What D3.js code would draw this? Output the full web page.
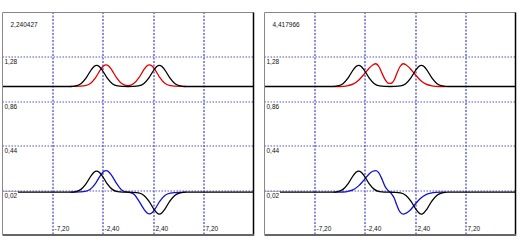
<!DOCTYPE html>
<html>
<head>
<meta charset="utf-8">
<script src="https://cdn.jsdelivr.net/npm/d3@7"></script>
<style>
  body { margin: 0; background: #fff; }
  svg text { font-family: "Liberation Sans", Arial, sans-serif; font-size: 6.5px; fill: #111; }
</style>
</head>
<body>
<div id="my_chart"></div>
<script>
// snapshot times shown top-left in each panel
const panelTimes = [2.240427, 4.417966]

const xTicks = [-7.2, -2.4, 2.4, 7.2]
const yTicks = [0.02, 0.44, 0.86, 1.28]

// black reference curves (same in both panels)
const blackTop = [[-12, 1], [-5.5, 1], [-5, 1.006], [-4.5, 1.027], [-4, 1.082], [-3.5, 1.16], [-3.25, 1.189], [-3, 1.2],
    [-2.75, 1.189], [-2.5, 1.16], [-2, 1.082], [-1.5, 1.027], [-1, 1.006], [-0.5, 1.001], [0, 1], [0.5, 1.001], [1, 1.006],
    [1.5, 1.027], [2, 1.082], [2.5, 1.16], [2.75, 1.189], [3, 1.2], [3.25, 1.189], [3.5, 1.16], [4, 1.082], [4.5, 1.027],
    [5, 1.006], [5.5, 1], [12, 1]]
const blackBottom = [[-12, 0], [-5.5, 0], [-5, 0.006], [-4.5, 0.027], [-4, 0.082], [-3.5, 0.16], [-3.25, 0.189], [-3, 0.2],
    [-2.75, 0.189], [-2.5, 0.16], [-2, 0.082], [-1.5, 0.027], [-1, 0.006], [-0.5, 0.001], [0, 0], [0.5, -0.001], [1, -0.006],
    [1.5, -0.028], [2, -0.084], [2.5, -0.164], [2.75, -0.194], [3, -0.207], [3.25, -0.194], [3.5, -0.164], [4, -0.084],
    [4.5, -0.028], [5, -0.006], [5.5, 0], [12, 0]]

// left panel
const redLeft = [[-5.5, 1], [-5.1, 1.001], [-4.6, 1.003], [-4.1, 1.008], [-3.6, 1.028], [-3.1, 1.084], [-2.6, 1.164],
    [-2.35, 1.194], [-2.1, 1.205], [-1.85, 1.194], [-1.6, 1.164], [-1.1, 1.084], [-0.6, 1.028], [0, 1.008], [0.55, 1.028],
    [1.05, 1.084], [1.55, 1.164], [1.8, 1.194], [2.05, 1.205], [2.3, 1.194], [2.55, 1.164], [3.05, 1.084], [3.55, 1.028],
    [4.05, 1.008], [4.55, 1.003], [5.05, 1.001], [5.5, 1]]
const blueLeft = [[-5.5, 0], [-5.1, 0.001], [-4.6, 0.003], [-4.1, 0.008], [-3.6, 0.028], [-3.1, 0.084], [-2.6, 0.164],
    [-2.35, 0.194], [-2.1, 0.205], [-1.85, 0.194], [-1.6, 0.164], [-1.1, 0.084], [-0.6, 0.02], [-0.3, 0.006], [0, 0],
    [0.3, -0.006], [0.6, -0.022], [1.05, -0.084], [1.55, -0.164], [1.8, -0.194], [2.05, -0.205], [2.3, -0.194],
    [2.55, -0.164], [3.05, -0.084], [3.55, -0.028], [4.05, -0.008], [4.55, -0.003], [5.05, -0.001], [5.5, 0]]

// right panel
const redRight = [[-5.4, 1], [-5, 1], [-4.5, 1.002], [-4, 1.009], [-3.5, 1.025], [-3, 1.06], [-2.5, 1.114], [-2, 1.173],
    [-1.65, 1.204], [-1.35, 1.215], [-1.05, 1.187], [-0.75, 1.122], [-0.45, 1.062], [-0.2, 1.033], [0, 1.03], [0.2, 1.035],
    [0.4, 1.062], [0.65, 1.122], [0.95, 1.187], [1.25, 1.215], [1.55, 1.204], [1.9, 1.173], [2.4, 1.114], [2.9, 1.06],
    [3.4, 1.025], [3.9, 1.009], [4.4, 1.002], [4.9, 1], [5.3, 1]]
const blueRight = [[-5.4, 0], [-5, 0], [-4.5, 0.002], [-4, 0.009], [-3.5, 0.025], [-3, 0.06], [-2.5, 0.114], [-2, 0.173],
    [-1.65, 0.198], [-1.35, 0.205], [-1.05, 0.18], [-0.75, 0.12], [-0.45, 0.05], [-0.2, 0.018], [0, 0], [0.2, -0.022],
    [0.4, -0.055], [0.65, -0.122], [0.95, -0.187], [1.25, -0.207], [1.55, -0.198], [1.9, -0.173], [2.4, -0.114],
    [2.9, -0.06], [3.4, -0.025], [3.9, -0.009], [4.4, -0.002], [4.9, 0], [5.3, 0]]

const panels = [
    { time: panelTimes[0], red: redLeft, blue: blueLeft },
    { time: panelTimes[1], red: redRight, blue: blueRight }
]

const width = 527
const height = 245
const panelW = 251
const panelH = 222
const top0 = 12.5
const lefts = [2.5, 264.5]

const locale = d3.formatLocale({ decimal: ",", thousands: ".", grouping: [3], currency: ["", ""], minus: "-" })
const fmt2 = locale.format(".2f")
const fmt6 = locale.format(".6f")

const svg = d3.select("#my_chart")
    .append("svg")
    .attr("width", width)
    .attr("height", height)

const x = d3.scaleLinear().domain([-12, 12]).range([0, panelW])
const y = d3.scaleLinear().domain([-0.4, 1.7]).range([panelH, 0])

const line = d3.line()
    .x(d => x(d[0]))
    .y(d => y(d[1]))
    .curve(d3.curveMonotoneX)

panels.forEach((p, i) => {
    const g = svg.append("g").attr("transform", `translate(${lefts[i]},${top0})`)

    g.append("clipPath").attr("id", "clip" + i)
        .append("rect").attr("width", panelW).attr("height", panelH)

    g.append("rect").attr("width", panelW).attr("height", panelH).attr("fill", "#fff")

    // grid from axes
    const gx = g.append("g")
        .attr("transform", `translate(0,${panelH})`)
        .call(d3.axisBottom(x).tickValues(xTicks).tickSize(-panelH).tickFormat(fmt2))
    const gy = g.append("g")
        .call(d3.axisLeft(y).tickValues(yTicks).tickSize(-panelW).tickFormat(fmt2))

    ;[gx, gy].forEach(a => {
        a.select(".domain").remove()
        a.selectAll(".tick text").remove()
    })
    gx.selectAll(".tick")
        .attr("transform", d => `translate(${Math.round(x(d)) + 0.5},0)`)
    gx.selectAll(".tick line")
        .attr("stroke", "#5c5cd0")
        .attr("stroke-width", 1.4)
        .attr("stroke-dasharray", "2,1.5")
    gy.selectAll(".tick")
        .attr("transform", d => `translate(0,${Math.round(y(d)) + 0.5})`)
    gy.selectAll(".tick line")
        .attr("x1", 0).attr("x2", panelW)
        .attr("stroke", "#5050c8")
        .attr("stroke-width", 1)
        .attr("stroke-dasharray", "1.5,1.5")

    const plot = g.append("g").attr("clip-path", `url(#clip${i})`)
    const curves = [
        { data: p.red, color: "#e30000" },
        { data: p.blue, color: "#1414c8" },
        { data: blackTop, color: "#000" },
        { data: blackBottom, color: "#000" }
    ]
    plot.selectAll("path")
        .data(curves)
        .enter()
        .append("path")
        .attr("d", d => line(d.data))
        .attr("fill", "none")
        .attr("stroke", d => d.color)
        .attr("stroke-width", 1.3)

    // y labels with white box
    const yl = g.append("g").selectAll("g")
        .data(yTicks)
        .enter()
        .append("g")
        .attr("transform", d => `translate(0,${y(d)})`)
    yl.append("rect")
        .attr("x", 0.5).attr("y", 1.5)
        .attr("width", 15).attr("height", 8)
        .attr("fill", "#fff")
    yl.append("text")
        .attr("x", 2).attr("y", 7.5)
        .text(d => fmt2(d))

    // x labels with white box
    const xl = g.append("g").selectAll("g")
        .data(xTicks)
        .enter()
        .append("g")
        .attr("transform", d => `translate(${Math.round(x(d)) + 0.5},${panelH})`)
    xl.append("rect")
        .attr("x", 1).attr("y", -10)
        .attr("width", 14).attr("height", 8)
        .attr("fill", "#fff")
    xl.append("text")
        .attr("x", 1.5).attr("y", -4)
        .text(d => fmt2(d))

    g.append("text")
        .attr("x", 8).attr("y", 14)
        .text(fmt6(p.time))

    // sunken border
    g.append("line").attr("x1", 0).attr("x2", panelW).attr("y1", 0).attr("y2", 0).attr("stroke", "#888")
    g.append("line").attr("x1", 0).attr("x2", 0).attr("y1", 0).attr("y2", panelH).attr("stroke", "#888")
    g.append("line").attr("x1", panelW).attr("x2", panelW).attr("y1", 0).attr("y2", panelH)
        .attr("stroke", "#000").attr("stroke-width", 1.5)
    g.append("line").attr("x1", 0).attr("x2", panelW + 0.75).attr("y1", panelH + 0.5).attr("y2", panelH + 0.5)
        .attr("stroke", "#666").attr("stroke-width", 2)
})
</script>
</body>
</html>
